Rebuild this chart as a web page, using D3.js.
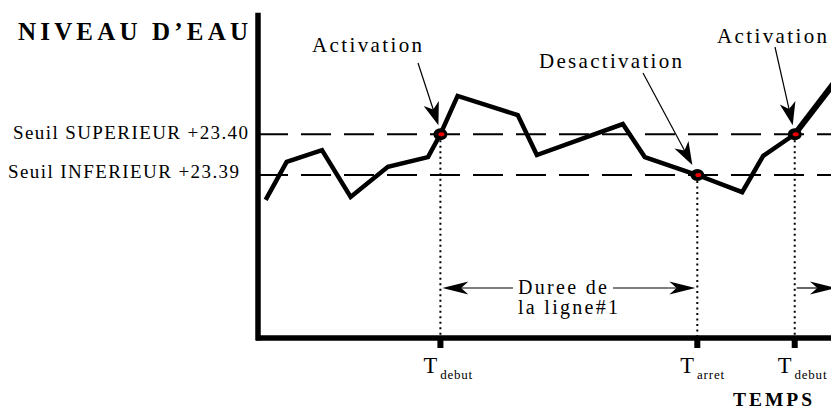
<!DOCTYPE html>
<html><head><meta charset="utf-8">
<script src="https://cdn.jsdelivr.net/npm/d3@7"></script>
<style>body{margin:0;background:#fff}svg{display:block}text{font-family:"Liberation Serif","Times New Roman",serif;fill:#000}</style>
</head><body><svg id="c" width="831" height="413"></svg>
<script>
// ---- data ----
const times  = [0.8, 3.0, 6.7, 9.7, 13.6, 17.8, 19.1, 20.9, 27.2, 29.2, 38.2, 40.5, 46.0, 50.7, 52.9, 56.2, 60.3];
const levels = [23.3839, 23.3932, 23.3961, 23.3846, 23.3920, 23.3944, 23.4000, 23.4094, 23.4047, 23.3949, 23.4025, 23.3944, 23.3900, 23.3858, 23.3947, 23.4000, 23.4125];
const thresholds = [23.40, 23.39];
const thresholdLabels = ["Seuil SUPERIEUR +23.40", "Seuil INFERIEUR +23.39"];
const eventTimes = [19.1, 46.0, 56.2];
const eventLevels = [23.40, 23.39, 23.40];
const eventNames = ["Activation", "Desactivation", "Activation"];
const tickMain = ["T", "T", "T"];
const tickSub = ["debut", "arret", "debut"];
const yTitle = "NIVEAU D\u2019EAU";
const xTitle = "TEMPS";
const durationLabel = ["Duree de", "la ligne#1"];

// ---- scales ----
const svg = d3.select("#c");
const x = d3.scaleLinear().domain([0, 60]).range([258, 831]);
const y = d3.scaleLinear().domain([23.35, 23.43]).range([338, 12]);

// thresholds dashed
svg.selectAll(".thr").data(thresholds).join("line")
  .attr("x1", x(0)).attr("x2", 831).attr("y1", d => y(d)).attr("y2", d => y(d))
  .attr("stroke", "#000").attr("stroke-width", 2).attr("stroke-dasharray", "30,13");

// threshold labels
const thrPos = [{x0: 13, w: 235, b: 139}, {x0: 8, w: 231, b: 178}];
svg.selectAll(".thrl").data(thresholdLabels).join("text")
  .attr("x", (d, i) => thrPos[i].x0).attr("y", (d, i) => thrPos[i].b)
  .attr("font-size", 19).attr("textLength", (d, i) => thrPos[i].w).attr("lengthAdjust", "spacing")
  .text(d => d);

// dotted verticals
svg.selectAll(".vd").data(eventTimes).join("line")
  .attr("x1", d => x(d)).attr("x2", d => x(d))
  .attr("y1", (d, i) => y(eventLevels[i]) + 6).attr("y2", y(23.35))
  .attr("stroke", "#000").attr("stroke-width", 2).attr("stroke-dasharray", "2,3.5");

// data line
const pts = times.map((t, i) => [t, levels[i]]);
const line = d3.line().x(d => x(d[0])).y(d => y(d[1]));
svg.append("path").attr("d", line(pts.slice(0, 16)))
  .attr("fill", "none").attr("stroke", "#000").attr("stroke-width", 4.5).attr("stroke-linejoin", "miter");
svg.append("path").attr("d", line(pts.slice(15)))
  .attr("fill", "none").attr("stroke", "#000").attr("stroke-width", 6);

// markers
const mk = svg.selectAll(".mk").data(eventTimes).join("g")
  .attr("transform", (d, i) => `translate(${x(d)},${y(eventLevels[i])})`);
mk.append("ellipse").attr("rx", 7).attr("ry", 6).attr("fill", "#000");
mk.append("ellipse").attr("cx", 1).attr("rx", 3).attr("ry", 2).attr("fill", "#e00");

// axes
svg.append("line").attr("x1", 258).attr("x2", 258).attr("y1", y(23.4298)).attr("y2", y(23.35) + 2.5)
  .attr("stroke", "#000").attr("stroke-width", 5.5);
svg.append("line").attr("x1", 256).attr("x2", 831).attr("y1", y(23.35)).attr("y2", y(23.35))
  .attr("stroke", "#000").attr("stroke-width", 5.5);
svg.selectAll(".tk").data(eventTimes).join("rect")
  .attr("x", d => x(d) - 3).attr("y", y(23.35)).attr("width", 6).attr("height", 10).attr("fill", "#000");

// tick labels
const tl = svg.selectAll(".tl").data(eventTimes).join("text")
  .attr("x", d => x(d) - 17).attr("y", 373).attr("font-size", 22.5);
tl.append("tspan").text((d, i) => tickMain[i]);
tl.append("tspan").attr("font-size", 13).attr("letter-spacing", 0.8).attr("dy", 6).attr("dx", 3).text((d, i) => tickSub[i]);

// arrowhead helper
function arrowHead(g, tx, ty, ang, L, W) {
  const p = [[0, 0], [-L, -W / 2], [-L * 0.72, 0], [-L, W / 2]];
  g.append("path").attr("d", "M" + p.map(q => q.join(",")).join("L") + "Z")
    .attr("transform", `translate(${tx},${ty}) rotate(${ang})`).attr("fill", "#000");
}

// annotations
const ann = [
  {tx: 312, b: 52, w: 110, sx: 418, sy: 63},
  {tx: 539, b: 68, w: 143, sx: 643, sy: 73},
  {tx: 717, b: 43, w: 110, sx: 775, sy: 47}
];
eventNames.forEach((nm, i) => {
  const a = ann[i];
  svg.append("text").attr("x", a.tx).attr("y", a.b).attr("font-size", 21)
    .attr("textLength", a.w).attr("lengthAdjust", "spacing").text(nm);
  const ex = x(eventTimes[i]) - (i === 1 ? 5 : 2), ey = y(eventLevels[i]) - (i === 1 ? 10 : 9);
  const ang = Math.atan2(ey - a.sy, ex - a.sx) * 180 / Math.PI;
  svg.append("line").attr("x1", a.sx).attr("y1", a.sy).attr("x2", ex - 15 * Math.cos(ang * Math.PI / 180)).attr("y2", ey - 15 * Math.sin(ang * Math.PI / 180))
    .attr("stroke", "#000").attr("stroke-width", 1.2);
  arrowHead(svg, ex, ey, ang, 23, 16);
});

// duration arrows
const ya = 288;
svg.append("line").attr("x1", 513).attr("x2", x(eventTimes[0]) + 12).attr("y1", ya).attr("y2", ya).attr("stroke", "#000").attr("stroke-width", 1.2);
arrowHead(svg, x(eventTimes[0]) + 2, ya, 180, 26, 13);
svg.append("line").attr("x1", 613).attr("x2", x(eventTimes[1]) - 12).attr("y1", ya).attr("y2", ya).attr("stroke", "#000").attr("stroke-width", 1.2);
arrowHead(svg, x(eventTimes[1]) - 2, ya, 0, 26, 13);
svg.append("line").attr("x1", x(eventTimes[2]) + 2).attr("x2", 820).attr("y1", ya).attr("y2", ya).attr("stroke", "#000").attr("stroke-width", 1.2);
arrowHead(svg, 836, ya, 0, 26, 13);

svg.append("text").attr("x", 518).attr("y", 294).attr("font-size", 20).attr("textLength", 89).attr("lengthAdjust", "spacing").text(durationLabel[0]);
svg.append("text").attr("x", 518).attr("y", 314).attr("font-size", 20).attr("textLength", 100).attr("lengthAdjust", "spacing").text(durationLabel[1]);

// titles
svg.append("text").attr("x", 18).attr("y", 40).attr("font-size", 25).attr("font-weight", "bold")
  .attr("textLength", 230).attr("lengthAdjust", "spacing").text(yTitle);
svg.append("text").attr("x", 733).attr("y", 406).attr("font-size", 19.5).attr("font-weight", "bold")
  .attr("textLength", 79).attr("lengthAdjust", "spacing").text(xTitle);
</script></body></html>
